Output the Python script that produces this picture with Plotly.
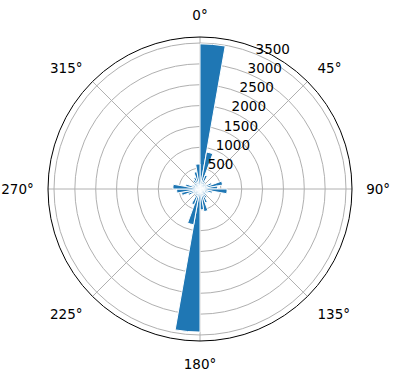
import plotly.graph_objects as go

bin_starts = list(range(0, 360, 10))
counts = [3480, 900, 350, 200, 150, 180, 300, 550, 420,
          650, 300, 200, 150, 200, 250, 350, 550, 500,
          3430, 870, 400, 200, 150, 180, 300, 450, 560,
          650, 350, 200, 150, 180, 250, 300, 420, 600]
r_ticks = [500, 1000, 1500, 2000, 2500, 3000, 3500]
theta_ticks = [0, 45, 90, 135, 180, 225, 270, 315]
theta_labels = [f"{t}°" for t in theta_ticks]
r_max = 3644

W, H = 396, 380
fig = go.Figure()
fig.add_trace(go.Barpolar(
    r=counts,
    theta=[b + 5 for b in bin_starts],
    width=[10] * len(counts),
    marker=dict(color="#1f77b4", line=dict(color="white", width=1)),
    subplot="polar",
))
# invisible helper trace so the label-only polar overlay is drawn
fig.add_trace(go.Scatterpolar(
    r=[0], theta=[0], mode="markers", marker=dict(opacity=0),
    subplot="polar2", hoverinfo="skip",
))

font = dict(family="DejaVu Sans", size=13.5, color="black")
fig.update_layout(
    width=W, height=H,
    margin=dict(l=0, r=0, t=0, b=0),
    paper_bgcolor="white",
    showlegend=False,
    font=font,
    polar=dict(
        domain=dict(x=[48 / W, 352 / W], y=[39 / H, 343 / H]),
        bgcolor="white",
        angularaxis=dict(
            rotation=90, direction="clockwise",
            tickvals=theta_ticks, ticktext=theta_labels,
            showgrid=True, gridcolor="#b0b0b0", gridwidth=0.8,
            showline=True, linecolor="black", linewidth=1,
            ticks="outside", ticklen=11, tickcolor="rgba(0,0,0,0)",
            layer="above traces", tickfont=font,
        ),
        radialaxis=dict(
            range=[0, r_max], tickvals=r_ticks,
            angle=67.5, showticklabels=False,
            showline=False, showgrid=True, gridcolor="#b0b0b0", gridwidth=0.8,
            ticks="", layer="above traces",
        ),
    ),
    polar2=dict(
        domain=dict(x=[41 / W, 345 / W], y=[49 / H, 353 / H]),
        bgcolor="rgba(0,0,0,0)",
        angularaxis=dict(visible=False, rotation=90, direction="clockwise"),
        radialaxis=dict(
            range=[0, r_max], tickvals=r_ticks,
            angle=67.5, tickangle=67.5,
            showline=False, showgrid=False, ticks="",
            tickfont=font,
        ),
    ),
)
fig.write_html("out.html")
